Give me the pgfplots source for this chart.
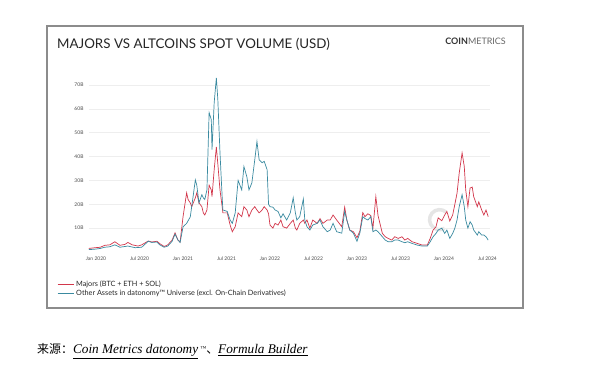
\documentclass[border=0pt]{standalone}
\usepackage{pgfplots}
\pgfplotsset{compat=1.18}
\usepackage{fontspec}
\setmainfont{Lato}
\newfontfamily\cjk{Noto Sans CJK SC}
\newfontfamily\capfont{Liberation Serif}
\definecolor{majred}{HTML}{D2374B}
\definecolor{altblue}{HTML}{3A8AA0}
\definecolor{gridc}{HTML}{EEEEEE}
\begin{document}
\begin{tikzpicture}
\useasboundingbox (0,0) rectangle (600bp,-371bp);
\fill[white] (0,0) rectangle (600bp,-371bp);
\draw[black!45, line width=1.1bp] (47bp,-26bp) rectangle (523bp,-308bp);
\node[anchor=west, inner sep=0, font=\fontsize{13.4}{15}\selectfont, text=black!85] at (57bp,-44bp) {MAJORS VS ALTCOINS SPOT VOLUME (USD)};
\node[anchor=east, inner sep=0, font=\fontsize{9}{10}\selectfont] at (506bp,-41bp) {\textcolor{black!80}{\textbf{COIN}}\textcolor{black!60}{METRICS}};
\draw[black!10, line width=3.5bp] (446bp,-212bp) arc[start angle=50, end angle=300, radius=10bp];
\begin{axis}[
  at={(89bp,-252bp)}, anchor=south west,
  width=401bp, height=179bp, scale only axis,
  xmin=-0.97, xmax=54.35, ymin=0, ymax=75,
  axis line style={draw=none},
  major tick length=0,
  ymajorgrids, grid style={gridc, line width=0.6bp},
  ytick={10,20,30,40,50,60,70},
  yticklabels={10B,20B,30B,40B,50B,60B,70B},
  xtick={0,6,12,18,24,30,36,42,48,54},
  xticklabels={Jan 2020,Jul 2020,Jan 2021,Jul 2021,Jan 2022,Jul 2022,Jan 2023,Jul 2023,Jan 2024,Jul 2024},
  ticklabel style={font=\fontsize{5}{6}\selectfont, text=black!70},
  yticklabel style={xshift=-2bp},
  xticklabel style={yshift=-1bp},
  legend style={at={(-0.08,-0.148)}, anchor=north west, draw=none, fill=none, inner sep=0pt,
    font=\fontsize{7.3}{8.3}\selectfont, text=black!85, row sep=-1.5bp, cells={anchor=west}},
  legend image code/.code={\draw[#1, line width=1.1bp] (0bp,0bp) -- (16bp,0bp);},
  clip=false,
]
\addplot[majred, line width=0.7bp] coordinates {
(-1.0,1.5)(-0.1,1.8)(0.6,2.0)(1.2,2.8)(1.9,3.0)(2.6,4.3)(3.3,2.8)(4.0,3.2)(4.4,4.0)(5.0,3.0)
(5.8,2.5)(6.3,3.0)(7.2,4.6)(7.7,4.2)(8.4,4.5)(8.8,3.5)(9.4,2.3)(9.9,3.0)(10.5,5.0)(10.9,8.0)
(11.3,5.0)(11.6,4.2)(12.0,14.7)(12.5,24.8)(12.7,22)(13.0,20.6)(13.2,19)(13.7,22.7)(13.9,24.8)(14.2,20.6)
(14.6,19)(14.8,16.4)(15.0,15.5)(15.3,17.6)(15.6,28)(15.9,26)(16.0,23.2)(16.3,34.5)(16.6,44)(16.8,37)
(17.1,26)(17.4,19)(17.5,16.4)(18.1,16.4)(18.5,11.3)(18.8,8.5)(19.2,10.6)(19.6,16.4)(20.1,14.8)(20.4,19)
(20.8,17.6)(21.1,14.8)(21.5,17.6)(21.9,19)(22.2,17.6)(22.5,16.4)(22.9,17.6)(23.2,19)(23.6,17.6)(23.8,16)
(24.0,11.3)(24.4,10)(24.7,12)(25.1,11.3)(25.5,13.4)(25.8,10.6)(26.3,10)(26.8,12)(27.2,13.4)(27.5,10)
(27.7,9.2)(28.1,12)(28.6,13.4)(28.8,12)(29.1,13.4)(29.5,10)(29.9,13.4)(30.5,12)(30.9,14)(31.3,12)
(31.9,13.4)(32.3,13.4)(32.7,15.5)(33.2,13.4)(33.9,10.6)(34.3,18.8)(34.6,13.4)(35.0,9.2)(35.5,8.5)(36.0,6)
(36.4,8.8)(36.8,16.5)(37.1,14.8)(37.5,16)(37.9,15.3)(38.2,10)(38.6,23.2)(38.9,15.3)(39.5,7.8)(39.9,6.4)
(40.3,5.7)(40.8,5)(41.2,6.4)(41.7,5.7)(42.2,6.4)(42.6,5)(43.0,5.7)(43.6,4.3)(44.3,3.6)(45.0,2.9)
(45.7,2.9)(46.1,5.7)(46.5,9.2)(46.9,10.6)(47.2,14.3)(47.7,13.1)(48.1,15.5)(48.4,17)(48.8,13)(49.2,15.5)
(49.5,20)(49.8,24.6)(50.1,33)(50.5,41.5)(50.8,35.8)(51.0,26)(51.3,19)(51.6,26.8)(51.9,27.2)(52.1,23.2)
(52.6,19)(52.8,21)(53.2,17.6)(53.5,15.5)(53.8,17.6)(54.1,14.8)
};
\addlegendentry{Majors (BTC + ETH + SOL)}
\addplot[altblue, line width=0.7bp] coordinates {
(-1.0,1.0)(-0.1,1.2)(0.6,1.5)(1.2,2.0)(1.9,2.2)(2.6,3.0)(3.3,2.0)(4.4,2.5)(5.4,1.8)(6.3,2.0)
(7.2,4.5)(7.7,4.0)(8.4,4.2)(8.8,3.0)(9.4,2.0)(9.9,2.5)(10.5,4.5)(10.9,7.5)(11.3,5.0)(11.6,4.0)
(12.0,10.5)(12.5,12)(13.0,14.7)(13.2,19)(13.7,30.2)(13.9,28)(14.2,20.6)(14.6,24)(14.8,22.7)(15.0,22)
(15.3,26)(15.6,58.4)(15.9,55.5)(16.0,42.9)(16.3,62.6)(16.6,73)(16.8,64)(17.1,41.6)(17.4,23)(17.5,17.6)
(18.1,17)(18.5,13.4)(18.8,12)(19.2,16.4)(19.6,30)(20.1,26)(20.4,35.8)(20.8,31.6)(21.1,26)(21.5,29)
(21.9,38.7)(22.2,46.3)(22.5,38.7)(22.9,37.4)(23.2,38)(23.6,34.5)(23.8,20)(24.0,19)(24.4,18.8)(24.7,17.6)
(25.1,17)(25.5,14.3)(25.8,16)(26.3,13.4)(26.8,16.4)(27.2,22.7)(27.5,16.4)(27.7,13.4)(28.1,14.8)(28.6,22.2)
(28.8,13.4)(29.1,10.6)(29.5,9.2)(29.9,11.3)(30.5,12)(30.9,13.4)(31.3,10.6)(31.9,8.5)(32.3,9.2)(32.7,12)
(33.2,8.5)(33.9,7.9)(34.3,17)(34.6,13.4)(35.0,9.2)(35.5,7.9)(36.0,4.5)(36.4,8)(36.8,14.8)(37.1,14)
(37.5,13.4)(37.9,14.8)(38.2,8.5)(38.6,9.2)(38.9,8.5)(39.5,6.4)(39.9,5)(40.3,4.3)(40.8,4.3)(41.2,5)
(41.7,5)(42.2,4.3)(42.6,3.9)(43.0,4.3)(43.6,3.6)(44.3,2.9)(45.0,2.5)(45.7,2.5)(46.1,4.3)(46.5,6.4)
(46.9,7.8)(47.2,9.2)(47.7,10)(48.1,7.8)(48.4,9.2)(48.8,5.7)(49.2,7.8)(49.5,10)(49.8,13.4)(50.1,19)
(50.5,24)(50.8,19)(51.0,13.4)(51.3,10)(51.6,12.7)(51.9,11.3)(52.1,9.2)(52.6,7.1)(52.8,8.5)(53.2,7.1)
(53.5,7.1)(53.8,6.4)(54.1,5)
};
\addlegendentry{Other Assets in datonomy™ Universe (excl. On-Chain Derivatives)}
\end{axis}
\node[anchor=west, inner sep=0] at (37bp,-351bp) {{\cjk\fontsize{12}{14}\selectfont 来源：}{\capfont\itshape\fontsize{13.3}{14}\selectfont \underline{Coin Metrics datonomy}\,\raisebox{0.5ex}{\fontsize{6}{7}\selectfont ™}}{\cjk\fontsize{12}{14}\selectfont 、}{\capfont\itshape\fontsize{13.3}{14}\selectfont\underline{Formula Builder}}};
\end{tikzpicture}
\end{document}
